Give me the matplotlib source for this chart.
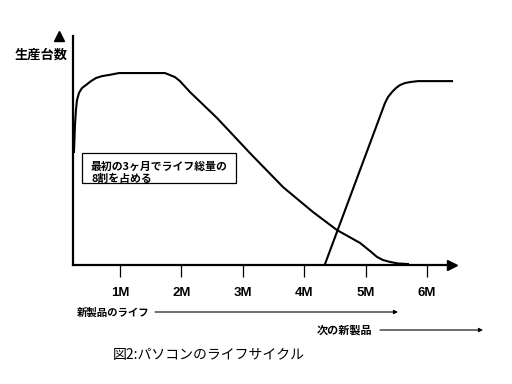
import matplotlib
matplotlib.use("Agg")
import matplotlib.pyplot as plt
from matplotlib.patches import Rectangle

plt.rcParams['font.family'] = ['Noto Sans CJK JP', 'DejaVu Sans']

# months on x, production volume (plateau = 100) on y
current_m = [0.251, 0.267, 0.283, 0.300, 0.332, 0.381, 0.446, 0.528, 0.609, 0.707,
             0.821, 0.984, 1.733, 1.896, 1.977, 2.140, 2.580, 3.117, 3.655, 4.143,
             4.534, 4.909, 5.072, 5.186, 5.283, 5.397, 5.528, 5.691]
current_v = [58.9, 72.9, 80.7, 85.9, 89.6, 92.2, 93.75, 95.8, 97.4, 98.4,
             99.0, 100, 100, 97.9, 95.8, 90.1, 76.6, 58.3, 40.6, 27.6,
             18.2, 11.5, 7.3, 4.2, 2.6, 1.6, 0.8, 0.5]
next_m = [4.339, 5.316, 5.365, 5.430, 5.495, 5.560, 5.642, 5.723, 5.853, 6.407]
next_v = [0.5, 84.4, 87.5, 90.1, 92.2, 93.75, 94.8, 95.3, 95.8, 95.8]

tick_pos = [1, 2, 3, 4, 5, 6]
tick_labels = ["1M", "2M", "3M", "4M", "5M", "6M"]

y_label = "生産台数"
note_lines = ["最初の3ヶ月でライフ総量の", "8割を占める"]
life_label = "新製品のライフ"
next_label = "次の新製品"
caption = "図2:パソコンのライフサイクル"

fig = plt.figure(figsize=(5.12, 3.84), dpi=100)
ax = fig.add_axes([73 / 512, 1 - 265 / 384, 379 / 512, 229 / 384])
ax.set_xlim(0.235, 6.407)
ax.set_ylim(0, 119.3)

ax.plot(current_m, current_v, color="black", lw=1.5, clip_on=False)
ax.plot(next_m, next_v, color="black", lw=1.5, clip_on=False)

for s in ["top", "right"]:
    ax.spines[s].set_visible(False)
for s in ["left", "bottom"]:
    ax.spines[s].set_linewidth(1.6)
ax.plot(1, 0, ">k", ms=7, transform=ax.get_yaxis_transform(), clip_on=False)
ax.plot(0, 1, "^k", ms=7, transform=ax.get_xaxis_transform(), clip_on=False)

ax.set_xticks(tick_pos)
ax.set_xticklabels(tick_labels, family="Liberation Sans", fontweight="bold", fontsize=9.5)
ax.tick_params(axis="x", direction="out", length=8.6, width=0.9, pad=7)
ax.set_yticks([])

# overlay in pixel coordinates for the annotations
ov = fig.add_axes([0, 0, 1, 1])
ov.set_xlim(0, 512)
ov.set_ylim(384, 0)
ov.axis("off")

ov.text(15, 55, y_label, fontsize=9.5, fontweight="bold", va="center", ha="left")

ov.add_patch(Rectangle((82, 153), 154, 30, fill=False, edgecolor="black", lw=0.9))
ov.text(91, 166.5, note_lines[0], fontsize=7.8, fontweight="bold", va="center")
ov.text(91, 179, note_lines[1], fontsize=7.8, fontweight="bold", va="center")

ov.text(77, 313, life_label, fontsize=7.5, fontweight="bold", va="center")
ov.annotate("", xy=(398, 312), xytext=(155, 312),
            arrowprops=dict(arrowstyle="-|>", color="black", lw=0.8,
                            mutation_scale=6, shrinkA=0, shrinkB=0))
ov.text(317, 330, next_label, fontsize=8, fontweight="bold", va="center")
ov.annotate("", xy=(483, 330), xytext=(380, 330),
            arrowprops=dict(arrowstyle="-|>", color="black", lw=0.8,
                            mutation_scale=6, shrinkA=0, shrinkB=0))

ov.text(113, 355, caption, fontsize=10, va="center")

fig.savefig("out.png", dpi=100)
